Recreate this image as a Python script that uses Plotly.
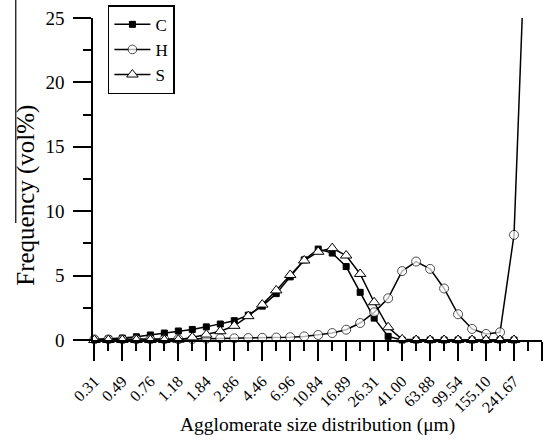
import plotly.graph_objects as go

# Size bins (index positions); labels shown on every other bin
x_labels = ["0.31", "0.49", "0.76", "1.18", "1.84", "2.86", "4.46", "6.96",
            "10.84", "16.89", "26.31", "41.00", "63.88", "99.54", "155.10", "241.67", ""]

C_vals = [0.03, 0.08, 0.15, 0.25, 0.39, 0.54, 0.70, 0.82, 1.02, 1.24, 1.50, 1.93,
          2.63, 3.60, 4.90, 6.22, 7.06, 6.75, 5.70, 3.70, 1.70, 0.28, 0.0, 0.0,
          0.0, 0.0, 0.0, 0.0, 0.0, 0.0, 0.0]
H_vals = [0.05, 0.05, 0.05, 0.05, 0.05, 0.05, 0.06, 0.08, 0.10, 0.12, 0.13, 0.15,
          0.17, 0.19, 0.22, 0.28, 0.39, 0.54, 0.80, 1.32, 2.15, 3.24, 5.35, 6.09,
          5.52, 4.00, 2.00, 0.86, 0.47, 0.60, 8.16, 37.0]
S_vals = [0.0, 0.0, 0.0, 0.0, 0.0, 0.0, 0.02, 0.20, 0.42, 0.68, 1.10, 1.85,
          2.75, 3.85, 5.05, 6.17, 6.85, 7.13, 6.56, 5.13, 2.93, 0.99, 0.05, 0.0,
          0.0, 0.0, 0.0, 0.0, 0.0, 0.0, 0.0]

FONT = "Liberation Serif"

fig = go.Figure()
fig.add_trace(go.Scatter(
    x=list(range(len(C_vals))), y=C_vals, name="C", mode="lines+markers",
    line=dict(color="black", width=1.5),
    marker=dict(symbol="square", size=6, color="black", line=dict(color="black", width=1)),
    cliponaxis=False))
H_sizes = [9] * (len(H_vals) - 1) + [0]
fig.add_trace(go.Scatter(
    x=list(range(len(H_vals))), y=H_vals, name="H", mode="lines+markers",
    line=dict(color="black", width=1.5),
    marker=dict(symbol="circle", size=H_sizes, color="white", line=dict(color="black", width=1)),
    cliponaxis=False))
fig.add_trace(go.Scatter(
    x=list(range(len(S_vals))), y=S_vals, name="S", mode="lines+markers",
    line=dict(color="black", width=1.5),
    marker=dict(symbol="triangle-up", size=10, color="white", line=dict(color="black", width=1)),
    cliponaxis=False))

tickvals = list(range(0, 2 * len(x_labels), 2))

fig.update_layout(
    width=545, height=441,
    margin=dict(l=93, r=3, t=18, b=101, autoexpand=False),
    paper_bgcolor="white", plot_bgcolor="white",
    font=dict(family=FONT, color="black", size=17),
    showlegend=True,
    legend=dict(xref="container", yref="container", x=0.198, y=0.988,
                xanchor="left", yanchor="top",
                bordercolor="black", borderwidth=1.5, bgcolor="white",
                font=dict(family=FONT, size=17, color="black"),
                tracegroupgap=0, itemwidth=36),
    xaxis=dict(range=[-0.1, 32], tickmode="array", tickvals=tickvals, ticktext=x_labels,
               tickangle=-45, ticks="outside", ticklen=19, tickwidth=1.5, tickcolor="black",
               showline=True, linecolor="black", linewidth=1.5, showgrid=False, zeroline=False,
               automargin=False, ticklabelstandoff=5, tickfont=dict(family=FONT, size=16),
               minor=dict(dtick=1, tick0=0, ticks="outside", ticklen=9, tickwidth=1.5,
                          tickcolor="black", showgrid=False)),
    yaxis=dict(range=[0, 25], tickvals=[0, 5, 10, 15, 20, 25], ticks="outside", ticklen=18,
               tickwidth=1.5, tickcolor="black", showline=True, linecolor="black", linewidth=1.5,
               showgrid=False, zeroline=False, automargin=False, ticklabelstandoff=5,
               tickfont=dict(family=FONT, size=19),
               minor=dict(dtick=2.5, tick0=0, ticks="outside", ticklen=8, tickwidth=1.5,
                          tickcolor="black", showgrid=False)),
    annotations=[
        dict(text="Frequency (vol%)", xref="paper", yref="paper", x=-0.15, y=0.45,
             textangle=-90, showarrow=False, font=dict(family=FONT, size=25),
             xanchor="center", yanchor="middle"),
        dict(text="Agglomerate size distribution (\u03bcm)", xref="paper", yref="paper",
             x=0.5, y=-0.265, showarrow=False, font=dict(family=FONT, size=19.5),
             xanchor="center", yanchor="middle"),
    ],
    shapes=[dict(type="line", xref="paper", yref="paper", x0=-0.172, x1=-0.172,
                 y0=1.06, y1=0.363, line=dict(color="black", width=1.2))],
)

fig.write_html("out.html", config={"displayModeBar": False},
               post_script="document.body.style.margin='0';document.body.style.padding='0';"
                           "document.documentElement.style.overflow='hidden';")
